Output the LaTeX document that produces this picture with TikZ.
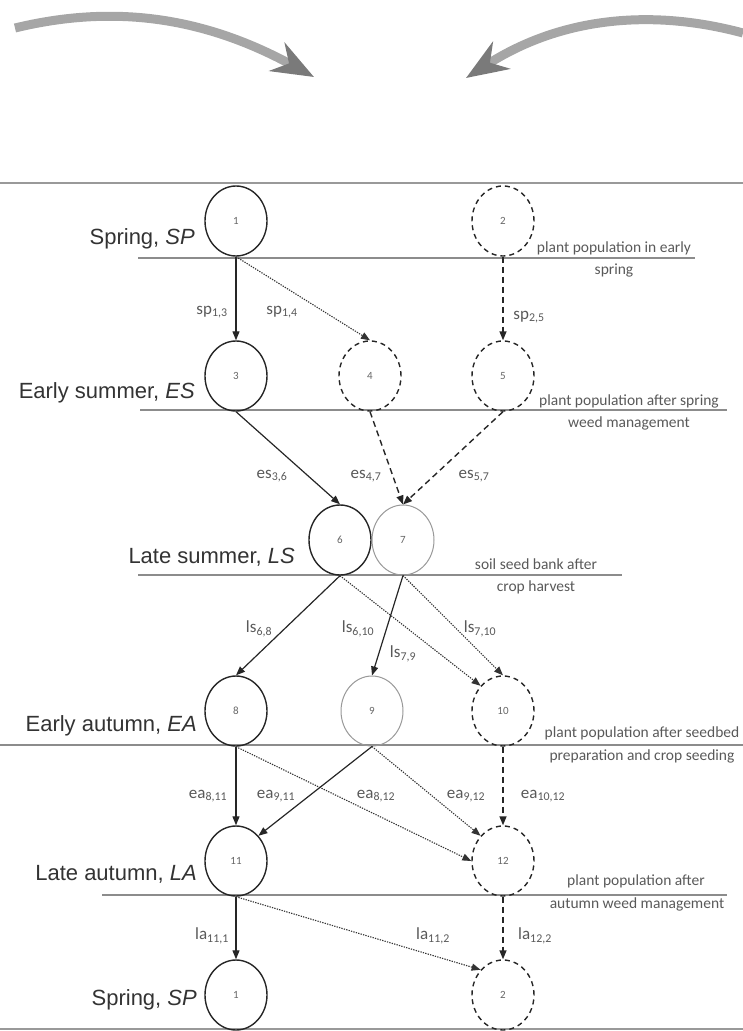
\documentclass[tikz,border=0pt]{standalone}
\usepackage{fontspec}
\setmainfont{Carlito}
\newfontfamily\arialf{Liberation Sans}
\usetikzlibrary{arrows.meta,shapes.geometric}
\tikzset{
  pop/.style={ellipse, draw=black!85, line width=1.4pt, minimum width=62pt, minimum height=70pt, inner sep=0pt,
    font=\fontsize{11}{13}\selectfont, text=black!60},
  popd/.style={pop, dash pattern=on 5pt off 4pt},
  popg/.style={pop, draw=black!40, line width=1pt},
  stage/.style={font=\arialf\fontsize{22}{26}\selectfont, text=black!80, anchor=east, inner sep=0pt},
  note/.style={font=\fontsize{15.5}{18}\selectfont, text=black!65, inner sep=0pt},
  elab/.style={font=\fontsize{17}{20}\selectfont, text=black!65, inner sep=0pt},
  tline/.style={draw=black!45, line width=1.3pt},
  frame/.style={draw=black!40, line width=1.5pt},
  tip/.style={-{Triangle[length=9pt,width=7pt]}},
  solidarr/.style={tip, line width=1.2pt, draw=black!85},
  dotarr/.style={tip, line width=1.1pt, dash pattern=on 1.3pt off 1.2pt, draw=black!80},
  dasharr/.style={tip, line width=1.4pt, dash pattern=on 6pt off 4pt, draw=black!85},
  bigarr/.style={line width=9pt, draw=black!35, -{Stealth[length=42pt,width=32pt,color=black!52]}}
}
\begin{document}
\begin{tikzpicture}[x=1pt,y=-1pt]
\useasboundingbox (0,0) rectangle (743,1031);
% top arrows
\draw[bigarr] (15,28) .. controls (110,5) and (200,15) .. (314,77);
\draw[bigarr] (743,33) .. controls (650,8) and (560,18) .. (466,78);
% frame lines
\draw[frame] (0,183) -- (743,183);
\draw[frame] (0,1029) -- (743,1029);
% time lines
\draw[tline] (138,258) -- (695,258);
\draw[tline] (140,410) -- (727,410);
\draw[tline] (138,575) -- (622,575);
\draw[tline] (0,745) -- (743,745);
\draw[tline] (102,895) -- (727,895);
% stage labels
\node[stage] (lsp) at (195,239) {Spring, \textit{SP}};
\node[stage] (les) at (195,393) {Early summer, \textit{ES}};
\node[stage] (lls) at (295,557) {Late summer, \textit{LS}};
\node[stage] (lea) at (197,726) {Early autumn, \textit{EA}};
\node[stage] (lla) at (197,874) {Late autumn, \textit{LA}};
\node[stage] (lsp2) at (197,1000) {Spring, \textit{SP}};
% notes
\node[note] (t1a) at (614,248) {plant population in early};
\node[note] (t1b) at (614,270) {spring};
\node[note] (t2a) at (629,401) {plant population after spring};
\node[note] (t2b) at (629,423) {weed management};
\node[note] (t3a) at (536,564) {soil seed bank after};
\node[note] (t3b) at (536,587) {crop harvest};
\node[note] (t4a) at (642,733) {plant population after seedbed};
\node[note] (t4b) at (642,756) {preparation and crop seeding};
\node[note] (t5a) at (636,881) {plant population after};
\node[note] (t5b) at (637,904) {autumn weed management};
% nodes
\node[pop]  (n1)  at (236,221) {1};
\node[popd] (n2)  at (503,221) {2};
\node[pop]  (n3)  at (236,376) {3};
\node[popd] (n4)  at (370,376) {4};
\node[popd] (n5)  at (503,376) {5};
\node[pop]  (n6)  at (340,540) {6};
\node[popg] (n7)  at (403,540) {7};
\node[pop]  (n8)  at (236,711) {8};
\node[popg] (n9)  at (372,711) {9};
\node[popd] (n10) at (503,711) {10};
\node[pop]  (n11) at (236,861) {11};
\node[popd] (n12) at (503,861) {12};
\node[pop]  (m1)  at (236,995) {1};
\node[popd] (m2)  at (503,995) {2};
% connectors
\draw[solidarr] (n1.south) -- (n3.north);
\draw[dotarr]   (n1.south) -- (n4.north);
\draw[dasharr]  (n2.south) -- (n5.north);
\draw[solidarr] (n3.south) -- (n6.north);
\draw[dasharr]  (n4.south) -- (n7.north);
\draw[dasharr]  (n5.south) -- (n7.north);
\draw[solidarr] (n6.south) -- (n8.north);
\draw[dotarr]   (n6.south) -- (n10.north west);
\draw[solidarr] (n7.south) -- (n9.north);
\draw[dotarr]   (n7.south) -- (n10.north);
\draw[solidarr] (n8.south) -- (n11.north);
\draw[dotarr]   (n8.south) -- (n12.west);
\draw[solidarr] (n9.south) -- (n11.north east);
\draw[dotarr]   (n9.south) -- (n12.north west);
\draw[dasharr]  (n10.south) -- (n12.north);
\draw[solidarr] (n11.south) -- (m1.north);
\draw[dotarr]   (n11.south) -- (m2.north west);
\draw[dasharr]  (n12.south) -- (m2.north);
% edge labels
\node[elab] (e13) at (212,312) {sp\textsubscript{1,3}};
\node[elab] (e14) at (282,312) {sp\textsubscript{1,4}};
\node[elab] (e25) at (529,317) {sp\textsubscript{2,5}};
\node[elab] (e36) at (272,476) {es\textsubscript{3,6}};
\node[elab] (e47) at (366,476) {es\textsubscript{4,7}};
\node[elab] (e57) at (474,476) {es\textsubscript{5,7}};
\node[elab] (e68) at (259,629) {ls\textsubscript{6,8}};
\node[elab] (e610) at (358,629) {ls\textsubscript{6,10}};
\node[elab] (e710) at (480,629) {ls\textsubscript{7,10}};
\node[elab] (e79) at (403,654) {ls\textsubscript{7,9}};
\node[elab] (e811) at (208,796) {ea\textsubscript{8,11}};
\node[elab] (e911) at (276,796) {ea\textsubscript{9,11}};
\node[elab] (e812) at (376,796) {ea\textsubscript{8,12}};
\node[elab] (e912) at (466,796) {ea\textsubscript{9,12}};
\node[elab] (e1012) at (543,796) {ea\textsubscript{10,12}};
\node[elab] (l111) at (212,936) {la\textsubscript{11,1}};
\node[elab] (l112) at (433,936) {la\textsubscript{11,2}};
\node[elab] (l122) at (535,936) {la\textsubscript{12,2}};
\end{tikzpicture}
\end{document}
